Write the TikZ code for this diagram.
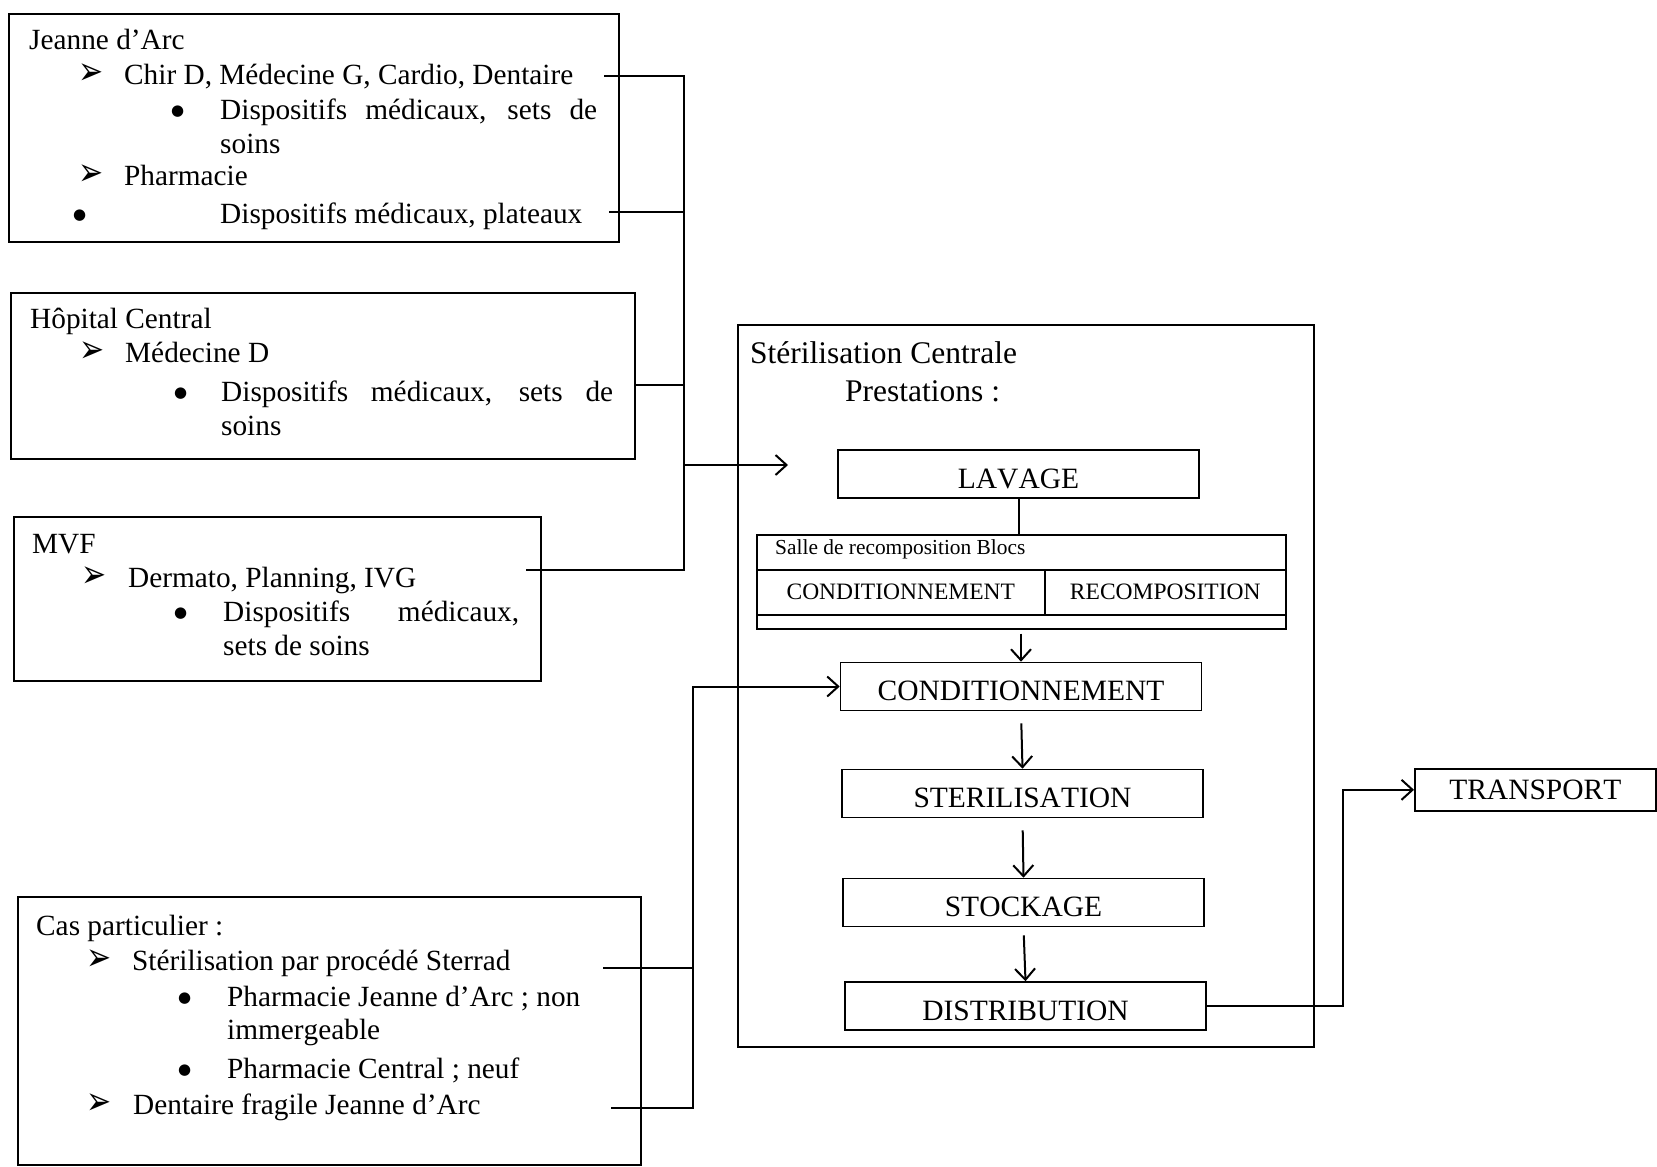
\documentclass[tikz,border=0pt]{standalone}
\usepackage{fontspec}
\usepackage{graphicx}
\setmainfont{Liberation Serif}[Kerning=Off]
\newfontfamily\dejavu{DejaVu Sans}
\usetikzlibrary{arrows.meta}
\newcommand\fleche{{\dejavu\fontsize{30}{30}\selectfont\scalebox{1}[1.3]{➢}}}
\newcommand\puce{\raisebox{4pt}{\dejavu\fontsize{15}{15}\selectfont ●}}

\begin{document}
\begin{tikzpicture}[x=1pt,y=-1pt,
	box/.style={draw,line width=1.6pt,anchor=north west,inner sep=0},
	txt/.style={anchor=base west,inner sep=0,font=\fontsize{29.3}{34}\selectfont},
	etape/.style={draw,line width=1.6pt,minimum width=361pt,minimum height=48pt,inner sep=0,
		text height=28pt,text depth=0pt,font=\fontsize{29.5}{34}\selectfont},
	lien/.style={line width=2pt},
	fl/.style={line width=2pt,-{Straight Barb[length=11pt,width=20pt,line width=2pt]}}]
	\useasboundingbox (0,0) rectangle (1657,1167);
	% services demandeurs
	\node[box,minimum width=610pt,minimum height=228pt] (ja) at (8,13) {};
	\node[txt] (ja0) at (29,49) {Jeanne d’Arc};
	\node[txt] (ja1) at (78,84) {\makebox[46pt][l]{\fleche}Chir D, Médecine G, Cardio, Dentaire};
	\node[txt] (ja2) at (171,119) {\makebox[49pt][l]{\puce}\makebox[377pt][s]{Dispositifs médicaux, sets de}};
	\node[txt] (ja3) at (220,153) {soins};
	\node[txt] (ja4) at (78,185) {\makebox[46pt][l]{\fleche}Pharmacie};
	\node[txt] (ja5) at (73,223) {\makebox[147pt][l]{\puce}Dispositifs médicaux, plateaux};

	\node[box,minimum width=624pt,minimum height=166pt] (hc) at (10,292) {};
	\node[txt] (hc0) at (30,328) {Hôpital Central};
	\node[txt] (hc1) at (79,362) {\makebox[46pt][l]{\fleche}Médecine D};
	\node[txt] (hc2) at (174,401) {\makebox[47pt][l]{\puce}\makebox[392pt][s]{Dispositifs médicaux, sets de}};
	\node[txt] (hc3) at (221,435) {soins};

	\node[box,minimum width=527pt,minimum height=164pt] (mvf) at (13,516) {};
	\node[txt] (mvf0) at (32,553) {MVF};
	\node[txt] (mvf1) at (81,587) {\makebox[47pt][l]{\fleche}Dermato, Planning, IVG};
	\node[txt] (mvf2) at (174,621) {\makebox[49pt][l]{\puce}\makebox[296pt][s]{Dispositifs médicaux,}};
	\node[txt] (mvf3) at (223,655) {sets de soins};

	\node[box,minimum width=623pt,minimum height=268pt] (cas) at (17,896) {};
	\node[txt] (cas0) at (36,935) {Cas particulier :};
	\node[txt] (cas1) at (86,970) {\makebox[46pt][l]{\fleche}Stérilisation par procédé Sterrad};
	\node[txt] (cas2) at (178,1006) {\makebox[49pt][l]{\puce}Pharmacie Jeanne d’Arc ; non};
	\node[txt] (cas3) at (227,1039) {immergeable};
	\node[txt] (cas4) at (178,1078) {\makebox[49pt][l]{\puce}Pharmacie Central ; neuf};
	\node[txt] (cas5) at (86,1114) {\makebox[47pt][l]{\fleche}Dentaire fragile Jeanne d’Arc};

	% sterilisation centrale
	\node[box,minimum width=576pt,minimum height=722pt] (sc) at (737,324) {};
	\node[txt,font=\fontsize{31.5}{34}\selectfont] (sc0) at (750,363) {Stérilisation Centrale};
	\node[txt,font=\fontsize{31.5}{34}\selectfont] (sc1) at (845,401) {Prestations :};

	\node[etape] (lav) at (1018.5,474) {LAVAGE};
	\node[box,minimum width=529pt,minimum height=94pt] (salle) at (756,534) {};
	\node[txt,font=\fontsize{21.4}{24}\selectfont] (salle0) at (775,554) {Salle de recomposition Blocs};
	\node[box,minimum width=288pt,minimum height=45pt,font=\fontsize{23.5}{26}\selectfont] (scond) at (756,569) {CONDITIONNEMENT};
	\node[box,minimum width=241pt,minimum height=45pt,font=\fontsize{23.5}{26}\selectfont] (srec) at (1044,569) {RECOMPOSITION};

	\node[etape] (cond) at (1021,686.5) {CONDITIONNEMENT};
	\node[etape] (ster) at (1022.5,793.5) {STERILISATION};
	\node[etape] (stock) at (1023.5,902.5) {STOCKAGE};
	\node[etape] (dist) at (1025.5,1006) {DISTRIBUTION};
	\node[etape,minimum width=241pt,minimum height=42pt,text height=20pt,anchor=north west] (trans) at (1414,768) {TRANSPORT};

	% liaisons
	\coordinate (j1) at (604,76);
	\coordinate (j2) at (609,212);
	\coordinate (h1) at (634,385);
	\coordinate (m1) at (526,570);
	\coordinate (bus) at (684,465);
	\coordinate (lavin) at (788,465);
	\draw[lien] (j1) -| (bus);
	\draw[lien] (j2) -- (j2 -| bus);
	\draw[lien] (h1) -- (h1 -| bus);
	\draw[lien] (m1) -| (bus);
	\draw[fl] (bus) -- (lavin);

	\coordinate (c1) at (603,968);
	\coordinate (c2) at (611,1108);
	\coordinate (k) at (693,686.5);
	\draw[lien] (c1) -- (c1 -| k);
	\draw[fl] (c2) -| (k) -- (cond);

	\draw[lien] (lav) -- (lav |- salle.north);
	\draw[fl,shorten <=4pt] (salle.south -| cond) -- (cond);
	\draw[fl,shorten <=12pt] (cond.south) -- (ster.north);
	\draw[fl,shorten <=12pt] (ster.south) -- (stock.north);
	\draw[fl,shorten <=8pt] (stock.south) -- (dist.north);
	\draw[fl] (dist.east) -- ++(136,0) |- (trans.west);
\end{tikzpicture}
\end{document}
